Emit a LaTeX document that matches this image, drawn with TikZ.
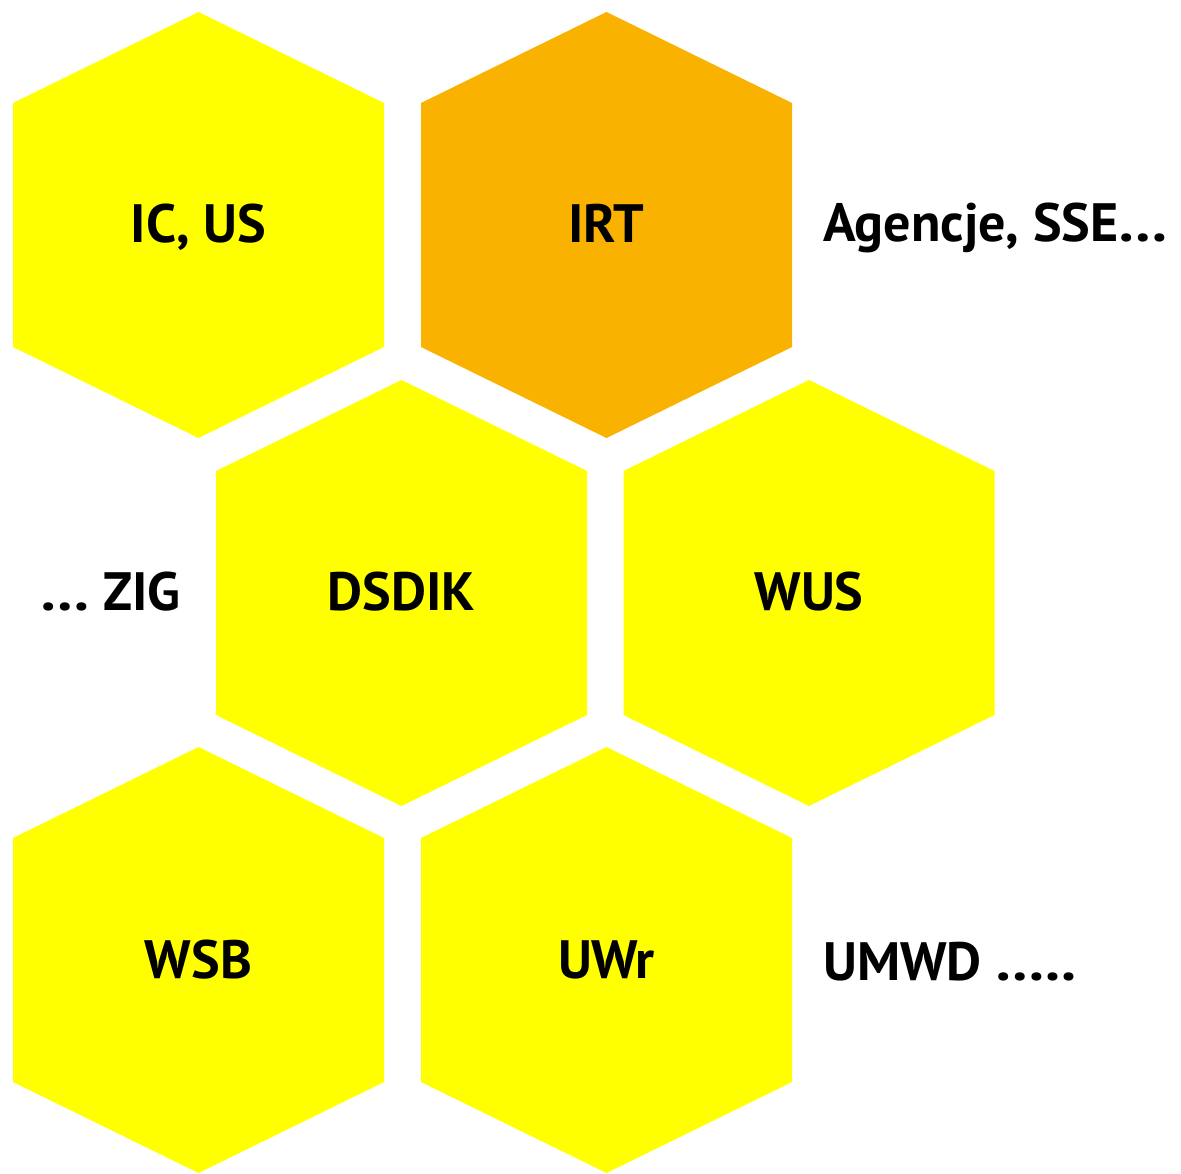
\documentclass[tikz,border=0pt]{standalone}
\usepackage{fontspec}
\setmainfont{PT Sans}
\definecolor{hexyellow}{HTML}{FFFF00}
\definecolor{hexorange}{HTML}{F9B200}
\newcommand\wdots[1]{\scalebox{1.13}[1]{#1}}
\tikzset{
  hexa/.pic={\fill[pic actions] (0,-213) -- (185.5,-122) -- (185.5,122) -- (0,213) -- (-185.5,122) -- (-185.5,-122) -- cycle;},
  lbl/.style={font=\bfseries\fontsize{54}{60}\selectfont, inner sep=0pt, anchor=base},
}
\begin{document}
\begin{tikzpicture}[x=1pt,y=-1pt]
\useasboundingbox (0,0) rectangle (1181,1173);
\pic[fill=hexyellow] at (198.5,225) {hexa};
\pic[fill=hexorange] at (606.5,225) {hexa};
\pic[fill=hexyellow] at (401.5,593) {hexa};
\pic[fill=hexyellow] at (809,593) {hexa};
\pic[fill=hexyellow] at (198.5,960) {hexa};
\pic[fill=hexyellow] at (606.5,960) {hexa};
\node[lbl] (icus) at (198.5,242) {IC, US};
\node[lbl] (irt) at (606.5,242) {IRT};
\node[lbl, anchor=base west] (agen) at (823,241) {Agencje, SSE\wdots{…}};
\node[lbl, anchor=base east] (zig) at (181,610) {\wdots{…} ZIG};
\node[lbl] (dsdik) at (401.5,610) {DSDIK};
\node[lbl] (wus) at (809,610) {WUS};
\node[lbl] (wsb) at (198.5,978) {WSB};
\node[lbl] (uwr) at (606.5,978) {UWr};
\node[lbl, anchor=base west] (umwd) at (823,980) {UMWD \wdots{…..}};
\end{tikzpicture}
\end{document}
